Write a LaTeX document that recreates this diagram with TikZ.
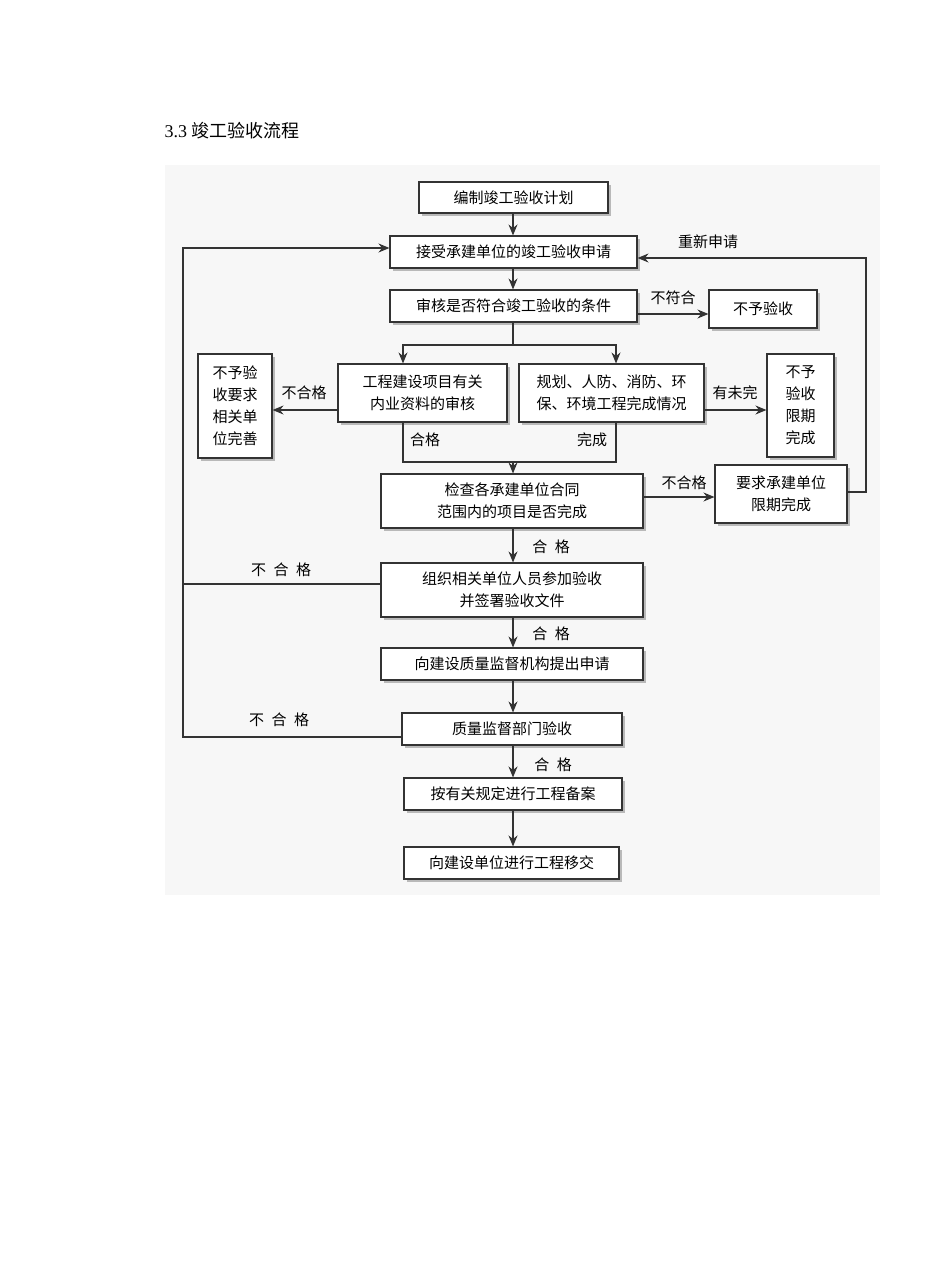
\documentclass[tikz,border=0pt]{standalone}
\usepackage{fontspec}
\setmainfont{Liberation Serif}
\newfontfamily\cjk{Noto Sans CJK SC}
\usetikzlibrary{shadows,arrows.meta}
\begin{document}
\begin{tikzpicture}[x=1pt,y=-1pt,
  bx/.style={draw=black!80,line width=1.1pt,fill=white,inner sep=2pt,align=center,
    font=\cjk\fontsize{15}{22}\selectfont,
    drop shadow={shadow xshift=2.5pt,shadow yshift=-2.5pt,fill=gray!55,opacity=1}},
  ar/.style={-{Stealth[length=11pt,width=9pt]},line width=1.1pt,draw=black!80},
  ln/.style={line width=1.1pt,draw=black!80},
  lb/.style={font=\cjk\fontsize{15}{18}\selectfont,inner sep=1pt}]
\useasboundingbox (0,0) rectangle (947,1263);
\fill[white] (0,0) rectangle (947,1263);
\fill[gray!6] (165,165) rectangle (880,895);
\node[anchor=west,font=\fontsize{18}{20}\selectfont] (title) at (161,131) {3.3 {\cjk 竣工验收流程}};
\newcommand\bxn[6]{\node[bx,minimum width=#3-#2,minimum height=#5-#4] (#1) at ({(#2+#3)/2},{(#4+#5)/2}) {#6};}
\bxn{b1}{419}{608}{182}{213}{编制竣工验收计划}
\bxn{b2}{390}{637}{236}{268}{接受承建单位的竣工验收申请}
\bxn{b3}{390}{637}{290}{322}{审核是否符合竣工验收的条件}
\bxn{b4}{709}{817}{290}{328}{不予验收}
\bxn{b5}{338}{507}{364}{422}{工程建设项目有关\\内业资料的审核}
\bxn{b6}{519}{704}{364}{422}{规划、人防、消防、环\\保、环境工程完成情况}
\bxn{b7}{198}{272}{354}{458}{不予验\\收要求\\相关单\\位完善}
\bxn{b8}{767}{834}{354}{457}{不予\\验收\\限期\\完成}
\bxn{b9}{381}{643}{474}{528}{检查各承建单位合同\\范围内的项目是否完成}
\bxn{b10}{715}{847}{465}{523}{要求承建单位\\限期完成}
\bxn{b11}{381}{643}{563}{617}{组织相关单位人员参加验收\\并签署验收文件}
\bxn{b12}{381}{643}{648}{680}{向建设质量监督机构提出申请}
\bxn{b13}{402}{622}{713}{745}{质量监督部门验收}
\bxn{b14}{404}{622}{778}{810}{按有关规定进行工程备案}
\bxn{b15}{404}{619}{847}{879}{向建设单位进行工程移交}
\coordinate (ya) at (0,248);
\coordinate (yb) at (0,258);
\coordinate (yc) at (0,314);
\coordinate (yd) at (0,410);
\coordinate (ye) at (0,497);
\coordinate (yf) at (0,492);
\coordinate (yg) at (0,584);
\coordinate (yh) at (0,737);
\coordinate (sp) at (513,345);
\coordinate (jn) at (513,462);
\coordinate (xl) at (183,0);
\coordinate (xr) at (866,0);
\coordinate (xm) at (513,0);
\draw[ar] (b1.south -| xm) -- (b2.north -| xm);
\draw[ar] (b2.south -| xm) -- (b3.north -| xm);
\draw[ar] (b3.east |- yc) -- (b4.west |- yc);
\draw[ln] (b3.south -| xm) -- (sp);
\draw[ar] (sp) -| (b5.north -| 403,0);
\draw[ar] (sp) -| (b6.north -| 616,0);
\draw[ln] (b5.south -| 403,0) |- (jn) -| (b6.south -| 616,0);
\draw[ar] (jn) -- (b9.north -| xm);
\draw[ar] (b5.west |- yd) -- (b7.east |- yd);
\draw[ar] (b6.east |- yd) -- (b8.west |- yd);
\draw[ar] (b9.east |- ye) -- (b10.west |- ye);
\draw[ar] (b10.east |- yf) -- (xr |- yf) -- (xr |- yb) -- (b2.east |- yb);
\draw[ar] (b13.west |- yh) -- (xl |- yh) -- (xl |- ya) -- (b2.west |- ya);
\draw[ln] (b11.west |- yg) -- (xl |- yg);
\draw[ar] (b9.south -| xm) -- (b11.north -| xm);
\draw[ar] (b11.south -| xm) -- (b12.north -| xm);
\draw[ar] (b12.south -| xm) -- (b13.north -| xm);
\draw[ar] (b13.south -| xm) -- (b14.north -| xm);
\draw[ar] (b14.south -| xm) -- (b15.north -| xm);
\node[lb] (l1) at (673,298) {不符合};
\node[lb] (l2) at (708,242) {重新申请};
\node[lb] (l3) at (304,393) {不合格};
\node[lb] (l4) at (735,393) {有未完};
\node[lb] (l5) at (425,440) {合格};
\node[lb] (l6) at (592,440) {完成};
\node[lb] (l7) at (684,483) {不合格};
\node[lb] (l8) at (551,547) {合\enspace 格};
\node[lb] (l9) at (551,634) {合\enspace 格};
\node[lb] (l10) at (553,765) {合\enspace 格};
\node[lb] (l11) at (281,570) {不\enspace 合\enspace 格};
\node[lb] (l12) at (279,720) {不\enspace 合\enspace 格};
\end{tikzpicture}
\end{document}
